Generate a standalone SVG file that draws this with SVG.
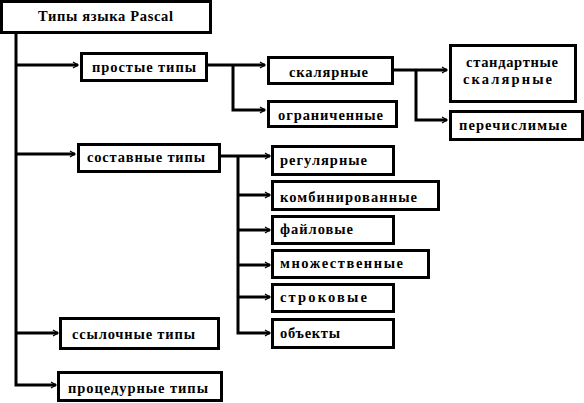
<svg xmlns="http://www.w3.org/2000/svg" width="584" height="403" viewBox="0 0 584 403">
<defs>
<style>
.box{fill:#fff;stroke:#000;stroke-width:3}
.t{font-family:"Liberation Serif","Times New Roman",serif;font-weight:bold;font-size:14.5px;fill:#000}
.c{fill:none;stroke:#000;stroke-width:3}
</style>
<marker id="ah" markerUnits="userSpaceOnUse" markerWidth="8" markerHeight="8" refX="6" refY="4" orient="auto">
<path d="M1,1 L6,4 L1,7" fill="none" stroke="#000" stroke-width="1.3"/>
</marker>
</defs>
<rect width="584" height="403" fill="#fff"/>
<g id="connectors">
<path class="c" d="M16,32 V385 H56" marker-end="url(#ah)"/>
<path class="c" d="M16,65 H78" marker-end="url(#ah)"/>
<path class="c" d="M16,154 H75" marker-end="url(#ah)"/>
<path class="c" d="M16,333 H58" marker-end="url(#ah)"/>
<path class="c" d="M207,65 H265" marker-end="url(#ah)"/>
<path class="c" d="M233,65 V110 H265" marker-end="url(#ah)"/>
<path class="c" d="M393,70 H447" marker-end="url(#ah)"/>
<path class="c" d="M416,70 V120 H447" marker-end="url(#ah)"/>
<path class="c" d="M220,156 H270" marker-end="url(#ah)"/>
<path class="c" d="M238,156 V333 H270" marker-end="url(#ah)"/>
<path class="c" d="M238,195 H270" marker-end="url(#ah)"/>
<path class="c" d="M238,230 H270" marker-end="url(#ah)"/>
<path class="c" d="M238,265 H270" marker-end="url(#ah)"/>
<path class="c" d="M238,297 H270" marker-end="url(#ah)"/>
</g>
<g id="root"><rect class="box" x="1.5" y="1.5" width="209" height="31"/><text class="t" x="38" y="21" textLength="135" lengthAdjust="spacing">Типы языка Pascal</text></g>
<g id="simple"><rect class="box" x="81.5" y="53.5" width="125" height="27"/><text class="t" x="92" y="72" textLength="104" lengthAdjust="spacing">простые типы</text></g>
<g id="scalar"><rect class="box" x="268.5" y="57.5" width="124" height="26"/><text class="t" x="289" y="77" textLength="79" lengthAdjust="spacing">скалярные</text></g>
<g id="limited"><rect class="box" x="268.5" y="101.5" width="128" height="25"/><text class="t" x="278" y="120" textLength="105" lengthAdjust="spacing">ограниченные</text></g>
<g id="standard"><rect class="box" x="450.5" y="45.5" width="125" height="56"/><text class="t" x="466" y="67" textLength="92" lengthAdjust="spacing">стандартные</text><text class="t" x="463" y="84" textLength="89" lengthAdjust="spacing">скалярные</text></g>
<g id="enum"><rect class="box" x="450.5" y="111.5" width="132" height="28"/><text class="t" x="459" y="130" textLength="108" lengthAdjust="spacing">перечислимые</text></g>
<g id="compound"><rect class="box" x="78.5" y="144.5" width="141" height="27"/><text class="t" x="87" y="162" textLength="118" lengthAdjust="spacing">составные типы</text></g>
<g id="regular"><rect class="box" x="272.5" y="146.5" width="121" height="28"/><text class="t" x="280" y="165" textLength="87" lengthAdjust="spacing">регулярные</text></g>
<g id="combined"><rect class="box" x="272.5" y="181.5" width="166" height="28"/><text class="t" x="280" y="202" textLength="137" lengthAdjust="spacing">комбинированные</text></g>
<g id="file"><rect class="box" x="272.5" y="216.5" width="121" height="27"/><text class="t" x="280" y="234" textLength="73" lengthAdjust="spacing">файловые</text></g>
<g id="set"><rect class="box" x="272.5" y="250.5" width="156" height="27"/><text class="t" x="280" y="268" textLength="123" lengthAdjust="spacing">множественные</text></g>
<g id="string"><rect class="box" x="272.5" y="284.5" width="121" height="27"/><text class="t" x="280" y="302" textLength="87" lengthAdjust="spacing">строковые</text></g>
<g id="object"><rect class="box" x="272.5" y="319.5" width="121" height="28"/><text class="t" x="280" y="338" textLength="60" lengthAdjust="spacing">объекты</text></g>
<g id="pointer"><rect class="box" x="60.5" y="318.5" width="158" height="30"/><text class="t" x="72" y="339" textLength="123" lengthAdjust="spacing">ссылочные типы</text></g>
<g id="procedural"><rect class="box" x="58.5" y="372.5" width="163" height="28"/><text class="t" x="68" y="393" textLength="140" lengthAdjust="spacing">процедурные типы</text></g>
</svg>
